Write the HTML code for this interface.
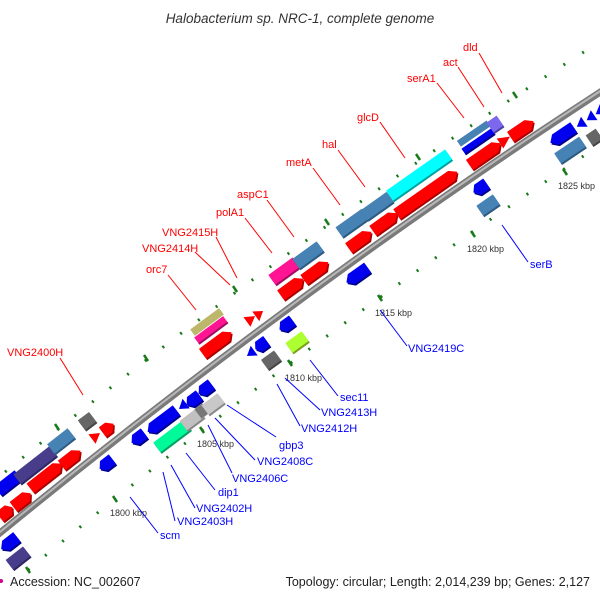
<!DOCTYPE html>
<html><head><meta charset="utf-8"><style>
html,body{margin:0;padding:0;background:#fff;}
svg{display:block;font-family:"Liberation Sans",sans-serif;}
</style></head><body>
<svg width="600" height="600" viewBox="0 0 600 600" xmlns="http://www.w3.org/2000/svg">
<defs>
<g id="fw"><polygon points="-0.5,-0.5 0.5,-0.5 0.5,0.5 -0.5,0.5"/></g>
</defs>
<text x="300" y="23" text-anchor="middle" font-size="13.5" font-style="italic" fill="#333">Halobacterium sp. NRC-1, complete genome</text>

<!-- dotted rows -->
<path d="M5,472 Q301.5,230.5 598,43" fill="none" stroke="#1a7a1a" stroke-width="3" stroke-dasharray="2 20.3"/>
<path d="M28,570 Q286,354.5 600,145" fill="none" stroke="#1a7a1a" stroke-width="3" stroke-dasharray="2 20.3"/>
<g stroke="#1a7a1a" stroke-width="2.5">
<line x1="55" y1="424" x2="59" y2="430"/><line x1="144" y1="355" x2="148" y2="361"/><line x1="233" y1="286" x2="237" y2="292"/><line x1="325" y1="219" x2="329" y2="225"/><line x1="416" y1="154" x2="420" y2="160"/><line x1="513" y1="92" x2="517" y2="98"/>
<line x1="26" y1="567" x2="30" y2="573"/><line x1="113" y1="496" x2="117" y2="502"/><line x1="200" y1="427" x2="204" y2="433"/><line x1="288" y1="360" x2="292" y2="366"/><line x1="378" y1="295" x2="382" y2="301"/><line x1="471" y1="231" x2="475" y2="237"/><line x1="563" y1="169" x2="567" y2="175"/>
</g>
<g font-size="9" fill="#333">
<text x="110" y="516">1800 kbp</text><text x="197" y="447">1805 kbp</text><text x="285" y="381">1810 kbp</text><text x="375" y="316">1815 kbp</text><text x="467" y="252">1820 kbp</text><text x="558" y="189">1825 kbp</text>
</g>

<!-- backbone -->
<path d="M-5,537 Q300,287 605,89" fill="none" stroke="#7a7a7a" stroke-width="7"/>
<path d="M-5,536 Q300,286 605,88" fill="none" stroke="#b8b8b8" stroke-width="2"/>

<!-- leaders -->
<g stroke="#f00" stroke-width="1">
<line x1="60" y1="358" x2="83" y2="395"/><line x1="168" y1="275" x2="196" y2="310"/><line x1="195" y1="252" x2="230" y2="285"/><line x1="216" y1="237" x2="237" y2="278"/><line x1="245" y1="218" x2="272" y2="253"/><line x1="267" y1="200" x2="294" y2="237"/><line x1="313" y1="168" x2="340" y2="205"/><line x1="338" y1="150" x2="365" y2="187"/><line x1="380" y1="122" x2="405" y2="158"/><line x1="437" y1="83" x2="464" y2="118"/><line x1="458" y1="67" x2="484" y2="107"/><line x1="479" y1="53" x2="502" y2="93"/>
</g>
<g stroke="#00f" stroke-width="1">
<line x1="130" y1="497" x2="158" y2="533"/><line x1="163" y1="472" x2="175" y2="521"/><line x1="171" y1="465" x2="195" y2="508"/><line x1="186" y1="453" x2="215" y2="490"/><line x1="208" y1="425" x2="232" y2="473"/><line x1="215" y1="418" x2="255" y2="460"/><line x1="227" y1="405" x2="276" y2="437"/><line x1="277" y1="384" x2="300" y2="426"/><line x1="285" y1="378" x2="320" y2="410"/><line x1="310" y1="360" x2="338" y2="396"/><line x1="380" y1="310" x2="407" y2="346"/><line x1="502" y1="225" x2="528" y2="262"/>
</g>
<g font-size="11" fill="#f00">
<text x="7" y="356">VNG2400H</text><text x="146" y="273">orc7</text><text x="142" y="252">VNG2414H</text><text x="162" y="236">VNG2415H</text><text x="216" y="216">polA1</text><text x="237" y="198">aspC1</text><text x="286" y="166">metA</text><text x="322" y="148">hal</text><text x="357" y="121">glcD</text><text x="407" y="82">serA1</text><text x="443" y="66">act</text><text x="463" y="51">dld</text>
</g>
<g font-size="11" fill="#00f">
<text x="160" y="539">scm</text><text x="177" y="525">VNG2403H</text><text x="196" y="512">VNG2402H</text><text x="218" y="496">dip1</text><text x="232" y="482">VNG2406C</text><text x="257" y="465">VNG2408C</text><text x="279" y="449">gbp3</text><text x="301" y="432">VNG2412H</text><text x="321" y="416">VNG2413H</text><text x="340" y="401">sec11</text><text x="408" y="352">VNG2419C</text><text x="530" y="268">serB</text>
</g>

<!-- genes -->
<g id="genes"></g>
<g>
<!-- generated statically below -->
</g>
<g id="static">
</g>
<g>
<!-- Each gene: g transform translate+rotate; shadow then body -->
<!-- red forward -->
<g transform="translate(6,512) rotate(-38)"><polygon points="-8,-4 4,-4 8,2 4,8 -8,8" fill="#a00"/><polygon points="-8,-6 3,-6 8,0 3,6 -8,6" fill="#f00"/></g>
<g transform="translate(22,500) rotate(-38)"><polygon points="-11,-4 6,-4 11,2 6,8 -11,8" fill="#a00"/><polygon points="-11,-6 5,-6 11,0 5,6 -11,6" fill="#f00"/></g>
<g transform="translate(46,476) rotate(-38)"><polygon points="-20,-4 14,-4 20,2 14,8 -20,8" fill="#a00"/><polygon points="-20,-6 13,-6 20,0 13,6 -20,6" fill="#f00"/></g>
<g transform="translate(71,458) rotate(-38)"><polygon points="-12,-4 6,-4 12,2 6,8 -12,8" fill="#a00"/><polygon points="-12,-6 5,-6 12,0 5,6 -12,6" fill="#f00"/></g>
<g transform="translate(96,436) rotate(-37)"><polygon points="-5,-6 5,0 -5,6" fill="#f00"/></g>
<g transform="translate(108,428) rotate(-37)"><polygon points="-7,-4 2,-4 7,2 2,8 -7,8" fill="#a00"/><polygon points="-7,-6 1,-6 7,0 1,6 -7,6" fill="#f00"/></g>
<g transform="translate(217,343) rotate(-36.5)"><polygon points="-18,-4 12,-4 18,2 12,8 -18,8" fill="#a00"/><polygon points="-18,-6 11,-6 18,0 11,6 -18,6" fill="#f00"/></g>
<g transform="translate(251,319) rotate(-36)"><polygon points="-5,-6 5,0 -5,6" fill="#f00"/></g>
<g transform="translate(259,314) rotate(-36)"><polygon points="-4,-6 5,0 -4,6" fill="#f00"/></g>
<g transform="translate(292,287) rotate(-36)"><polygon points="-14,-4 8,-4 14,2 8,8 -14,8" fill="#a00"/><polygon points="-14,-6 7,-6 14,0 7,6 -14,6" fill="#f00"/></g>
<g transform="translate(316,271) rotate(-36)"><polygon points="-15,-4 9,-4 15,2 9,8 -15,8" fill="#a00"/><polygon points="-15,-6 8,-6 15,0 8,6 -15,6" fill="#f00"/></g>
<g transform="translate(360,240) rotate(-35.5)"><polygon points="-14,-4 8,-4 14,2 8,8 -14,8" fill="#a00"/><polygon points="-14,-6 7,-6 14,0 7,6 -14,6" fill="#f00"/></g>
<g transform="translate(385,222) rotate(-35.5)"><polygon points="-15,-4 9,-4 15,2 9,8 -15,8" fill="#a00"/><polygon points="-15,-6 8,-6 15,0 8,6 -15,6" fill="#f00"/></g>
<g transform="translate(427,193) rotate(-35)"><polygon points="-37,-4 31,-4 37,2 31,8 -37,8" fill="#a00"/><polygon points="-37,-6 30,-6 37,0 30,6 -37,6" fill="#f00"/></g>
<g transform="translate(485,154) rotate(-34.5)"><polygon points="-19,-4 13,-4 19,2 13,8 -19,8" fill="#a00"/><polygon points="-19,-6 12,-6 19,0 12,6 -19,6" fill="#f00"/></g>
<g transform="translate(505,140) rotate(-34.5)"><polygon points="-6,-6 6,0 -6,6" fill="#f00"/></g>
<g transform="translate(522,129) rotate(-34)"><polygon points="-14,-4 8,-4 14,2 8,8 -14,8" fill="#a00"/><polygon points="-14,-6 7,-6 14,0 7,6 -14,6" fill="#f00"/></g>

<!-- upper second track boxes -->
<g transform="translate(8,483) rotate(-38)"><rect x="-13" y="-4" width="26" height="12" fill="#008"/><rect x="-13" y="-6" width="26" height="12" fill="#00e"/></g>
<g transform="translate(35,465) rotate(-38)"><rect x="-23" y="-4" width="46" height="12" fill="#2e2660"/><rect x="-23" y="-6" width="46" height="12" fill="#483d8b"/></g>
<g transform="translate(61,441) rotate(-38)"><rect x="-13" y="-4" width="26" height="12" fill="#2c5a80"/><rect x="-13" y="-6" width="26" height="12" fill="#4682b4"/></g>
<g transform="translate(87,421) rotate(-37)"><rect x="-7" y="-4" width="14" height="12" fill="#444"/><rect x="-7" y="-6" width="14" height="12" fill="#666"/></g>
<g transform="translate(207,322) rotate(-36.5)"><rect x="-18" y="-4" width="36" height="8" fill="#bdb76b"/></g>
<g transform="translate(211,330) rotate(-36.5)"><rect x="-18" y="-4" width="36" height="8" fill="#ff1493"/><rect x="-18" y="3" width="36" height="2" fill="#a00c60"/></g>
<g transform="translate(284,271) rotate(-36)"><rect x="-15" y="-4" width="30" height="12" fill="#a00c60"/><rect x="-15" y="-6" width="30" height="12" fill="#ff1493"/></g>
<g transform="translate(308,255) rotate(-36)"><rect x="-15" y="-4" width="30" height="12" fill="#2c5a80"/><rect x="-15" y="-6" width="30" height="12" fill="#4682b4"/></g>
<g transform="translate(352,223) rotate(-35.5)"><rect x="-16" y="-4" width="32" height="12" fill="#2c5a80"/><rect x="-16" y="-6" width="32" height="12" fill="#4682b4"/></g>
<g transform="translate(377,206) rotate(-35.5)"><rect x="-16" y="-4" width="32" height="12" fill="#2c5a80"/><rect x="-16" y="-6" width="32" height="12" fill="#4682b4"/></g>
<g transform="translate(419,175) rotate(-35)"><rect x="-36" y="-4" width="72" height="12" fill="#00a0a0"/><rect x="-36" y="-6" width="72" height="12" fill="#0ff"/></g>
<g transform="translate(474,134) rotate(-34.5)"><rect x="-18" y="-4" width="36" height="7" fill="#4682b4"/></g>
<g transform="translate(478,141) rotate(-34.5)"><rect x="-18" y="-3" width="36" height="7" fill="#00e"/><rect x="-18" y="3" width="36" height="2" fill="#008"/></g>
<g transform="translate(495,124) rotate(-34.5)"><rect x="-6" y="-4" width="12" height="12" fill="#4b3fa0"/><rect x="-6" y="-6" width="12" height="12" fill="#7b68ee"/></g>

<!-- blue reverse near backbone -->
<g transform="translate(9,543) rotate(-38)"><polygon points="10,-4 -4,-4 -10,2 -4,8 10,8" fill="#008"/><polygon points="10,-6 -4,-6 -10,0 -4,6 10,6" fill="#00e"/></g>
<g transform="translate(106,464) rotate(-37.5)"><polygon points="8,-4 -3,-4 -8,2 -3,8 8,8" fill="#008"/><polygon points="8,-6 -3,-6 -8,0 -3,6 8,6" fill="#00e"/></g>
<g transform="translate(138,438) rotate(-37)"><polygon points="8,-4 -3,-4 -8,2 -3,8 8,8" fill="#008"/><polygon points="8,-6 -3,-6 -8,0 -3,6 8,6" fill="#00e"/></g>
<g transform="translate(162,421) rotate(-37)"><polygon points="18,-4 -12,-4 -18,2 -12,8 18,8" fill="#008"/><polygon points="18,-6 -12,-6 -18,0 -12,6 18,6" fill="#00e"/></g>
<g transform="translate(183,406) rotate(-37)"><polygon points="4,-6 -5,0 4,6" fill="#00e"/></g>
<g transform="translate(193,400) rotate(-37)"><polygon points="8,-4 -3,-4 -8,2 -3,8 8,8" fill="#008"/><polygon points="8,-6 -3,-6 -8,0 -3,6 8,6" fill="#00e"/></g>
<g transform="translate(205,389) rotate(-37)"><polygon points="8,-4 -3,-4 -8,2 -3,8 8,8" fill="#008"/><polygon points="8,-6 -3,-6 -8,0 -3,6 8,6" fill="#00e"/></g>
<g transform="translate(251,353) rotate(-36)"><polygon points="4,-6 -5,0 4,6" fill="#00e"/></g>
<g transform="translate(261,345) rotate(-36)"><polygon points="7,-4 -3,-4 -7,2 -3,8 7,8" fill="#008"/><polygon points="7,-6 -3,-6 -7,0 -3,6 7,6" fill="#00e"/></g>
<g transform="translate(286,325) rotate(-36)"><polygon points="8,-4 -3,-4 -8,2 -3,8 8,8" fill="#008"/><polygon points="8,-6 -3,-6 -8,0 -3,6 8,6" fill="#00e"/></g>
<g transform="translate(357,275) rotate(-35.5)"><polygon points="13,-4 -7,-4 -13,2 -7,8 13,8" fill="#008"/><polygon points="13,-6 -7,-6 -13,0 -7,6 13,6" fill="#00e"/></g>
<g transform="translate(480,188) rotate(-34.5)"><polygon points="8,-4 -3,-4 -8,2 -3,8 8,8" fill="#008"/><polygon points="8,-6 -3,-6 -8,0 -3,6 8,6" fill="#00e"/></g>
<g transform="translate(562,135) rotate(-34)"><polygon points="14,-4 -8,-4 -14,2 -8,8 14,8" fill="#008"/><polygon points="14,-6 -8,-6 -14,0 -8,6 14,6" fill="#00e"/></g>
<g transform="translate(581,124) rotate(-34)"><polygon points="4,-6 -5,0 4,6" fill="#00e"/></g>
<g transform="translate(590,118) rotate(-34)"><polygon points="5,-6 -4,0 5,6" fill="#00e"/></g>
<g transform="translate(599,112) rotate(-34)"><polygon points="5,-6 -4,0 5,6" fill="#00e"/></g>

<!-- lower second track boxes -->
<g transform="translate(18,558) rotate(-38)"><rect x="-11" y="-4" width="22" height="12" fill="#2e2660"/><rect x="-11" y="-6" width="22" height="12" fill="#483d8b"/></g>
<g transform="translate(172,436) rotate(-37)"><rect x="-19" y="-4" width="38" height="12" fill="#00a060"/><rect x="-19" y="-6" width="38" height="12" fill="#00fa9a"/></g>
<g transform="translate(192,419) rotate(-37)"><rect x="-11" y="-4" width="22" height="12" fill="#888"/><rect x="-11" y="-6" width="22" height="12" fill="#c0c0c0"/></g>
<g transform="translate(202,411) rotate(-37)"><rect x="-5" y="-6" width="10" height="12" fill="#777"/></g>
<g transform="translate(213,404) rotate(-37)"><rect x="-10" y="-4" width="20" height="12" fill="#888"/><rect x="-10" y="-6" width="20" height="12" fill="#c8c8c8"/></g>
<g transform="translate(271,360) rotate(-36)"><rect x="-8" y="-4" width="16" height="12" fill="#444"/><rect x="-8" y="-6" width="16" height="12" fill="#666"/></g>
<g transform="translate(297,342) rotate(-36)"><rect x="-10" y="-4" width="20" height="12" fill="#7aa020"/><rect x="-10" y="-6" width="20" height="12" fill="#adff2f"/></g>
<g transform="translate(488,205) rotate(-34.5)"><rect x="-10" y="-4" width="20" height="12" fill="#2c5a80"/><rect x="-10" y="-6" width="20" height="12" fill="#4682b4"/></g>
<g transform="translate(570,150) rotate(-34)"><rect x="-15" y="-4" width="30" height="12" fill="#2c5a80"/><rect x="-15" y="-6" width="30" height="12" fill="#4682b4"/></g>
<g transform="translate(594,137) rotate(-34)"><rect x="-6" y="-4" width="12" height="12" fill="#444"/><rect x="-6" y="-6" width="12" height="12" fill="#666"/></g>
</g>

<circle cx="1" cy="581" r="2" fill="#c08"/>
<text x="10" y="586" font-size="12.5" fill="#222">Accession: NC_002607</text>
<text x="590" y="586" font-size="12.5" fill="#222" text-anchor="end">Topology: circular; Length: 2,014,239 bp; Genes: 2,127</text>
</svg>
</body></html>
